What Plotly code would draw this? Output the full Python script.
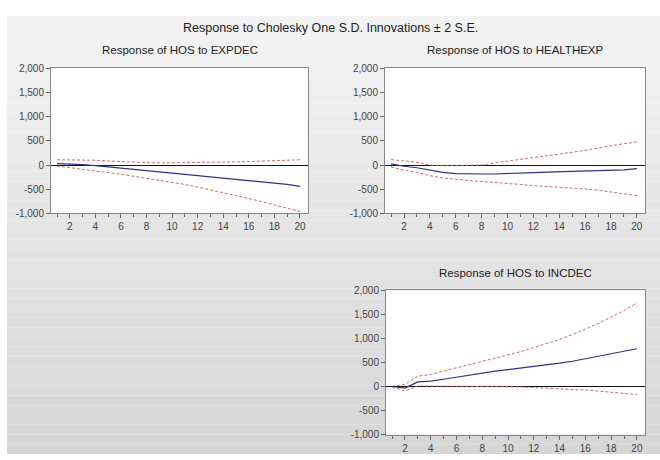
import plotly.graph_objects as go

W, H = 660, 460

periods = list(range(1, 21))

# Response of HOS to EXPDEC
exp_resp = [30, 25, 10, -10, -40, -65, -90, -115, -140, -165, -190, -210, -235, -260, -285, -310, -340, -370, -400, -440]
exp_up = [110, 110, 105, 100, 85, 70, 55, 50, 45, 45, 45, 45, 50, 60, 65, 70, 85, 95, 100, 110]
exp_lo = [-20, -50, -90, -120, -155, -190, -230, -270, -310, -355, -400, -455, -510, -565, -625, -690, -755, -825, -890, -960]

# Response of HOS to HEALTHEXP
hlt_resp = [25, -25, -55, -105, -150, -175, -185, -185, -185, -170, -165, -155, -145, -140, -130, -120, -115, -105, -100, -75]
hlt_up = [113, 80, 60, -5, -10, -10, -5, 0, 45, 80, 115, 145, 195, 225, 265, 305, 360, 400, 440, 480]
hlt_lo = [-40, -105, -150, -220, -265, -300, -320, -340, -355, -375, -400, -425, -440, -455, -475, -495, -520, -555, -585, -630]

# Response of HOS to INCDEC
inc_resp = [0, -35, 95, 110, 150, 195, 230, 285, 320, 350, 380, 420, 455, 485, 525, 575, 620, 675, 730, 785]
inc_up = [0, 45, 215, 250, 320, 385, 455, 520, 590, 655, 725, 810, 890, 980, 1080, 1195, 1310, 1445, 1580, 1738]
inc_lo = [-10, -95, 10, 10, 10, 10, 10, 5, 0, -5, -10, -20, -35, -55, -65, -75, -95, -120, -140, -167]

y_tickvals = [-1000, -500, 0, 500, 1000, 1500, 2000]
y_ticktext = ["-1,000", "-500", "0", "500", "1,000", "1,500", "2,000"]
x_tickvals = [2, 4, 6, 8, 10, 12, 14, 16, 18, 20]
x_ticktext = ["2", "4", "6", "8", "10", "12", "14", "16", "18", "20"]

main_title = "Response to Cholesky One S.D. Innovations ± 2 S.E."
panel_titles = ["Response of HOS to EXPDEC", "Response of HOS to HEALTHEXP", "Response of HOS to INCDEC"]

# pixel boxes (left, right, top, bottom)
boxes = [(51, 308, 64, 213), (385, 645, 64, 213), (386, 645, 292, 440)]
title_y = [45, 45, 274]

RESP_COL = "#30308f"
BAND_COL = "rgba(200,90,90,0.9)"
FONT = "Liberation Sans, Arial, sans-serif"

fig = go.Figure()
series = [(exp_resp, exp_up, exp_lo), (hlt_resp, hlt_up, hlt_lo), (inc_resp, inc_up, inc_lo)]

shapes = []
# gradient background bands
n = 45
top_px, bot_px = 10, 460
for i in range(n):
    y0 = top_px + (bot_px - top_px) * i / n
    y1 = top_px + (bot_px - top_px) * (i + 1) / n
    f = i / (n - 1)
    c = int(round(243 - f * (243 - 214)))
    shapes.append(dict(type="rect", xref="paper", yref="paper", layer="below",
                       x0=7 / W, x1=1, y0=1 - y1 / H, y1=1 - y0 / H,
                       line=dict(width=0), fillcolor=f"rgb({c},{c},{c})"))

layout_axes = {}
for k, ((l, r, t, b), (resp, up, lo)) in enumerate(zip(boxes, series)):
    idx = "" if k == 0 else str(k + 1)
    xa, ya = "x" + idx, "y" + idx
    for vals, col, dash, wdt in [(up, BAND_COL, "3px,2px", 1), (lo, BAND_COL, "3px,2px", 1), (resp, RESP_COL, "solid", 1.2)]:
        fig.add_trace(go.Scatter(x=periods, y=vals, mode="lines", xaxis=xa, yaxis=ya,
                                 line=dict(color=col, width=wdt, dash=dash),
                                 showlegend=False, hoverinfo="skip"))
    shapes.append(dict(type="rect", xref=xa + " domain", yref=ya + " domain", layer="below",
                       x0=0, x1=1, y0=0, y1=1, line=dict(width=0), fillcolor="white"))
    layout_axes["xaxis" + idx] = dict(
        domain=[l / W, r / W], anchor=ya, range=[0.53, 20.63],
        tickvals=x_tickvals, ticktext=x_ticktext, ticks="outside", ticklen=4, tickcolor="#666",
        minor=dict(ticks="outside", dtick=1, tick0=0, ticklen=3, tickcolor="#666"),
        showline=True, linecolor="#888", linewidth=1, mirror=True, showgrid=False, zeroline=False,
        tickfont=dict(family=FONT, size=10, color="#444"), fixedrange=True)
    layout_axes["yaxis" + idx] = dict(
        domain=[1 - b / H, 1 - t / H], anchor=xa, range=[-1000, 2000],
        tickvals=y_tickvals, ticktext=y_ticktext, ticks="outside", ticklen=4, tickcolor="#666",
        showline=True, linecolor="#888", linewidth=1, mirror=True, showgrid=False,
        zeroline=True, zerolinecolor="#111", zerolinewidth=1,
        tickfont=dict(family=FONT, size=10, color="#444"), fixedrange=True)

annotations = [dict(text=main_title, x=330 / W, y=1 - 23 / H, xref="paper", yref="paper",
                    showarrow=False, xanchor="center", yanchor="middle",
                    font=dict(family=FONT, size=12.5, color="#222"))]
for (l, r, t, b), ttl, ty in zip(boxes, panel_titles, title_y):
    annotations.append(dict(text=ttl, x=(l + r) / 2 / W, y=1 - ty / H, xref="paper", yref="paper",
                            showarrow=False, xanchor="center", yanchor="middle",
                            font=dict(family=FONT, size=11.5, color="#222")))

fig.update_layout(width=W, height=H, margin=dict(l=0, r=0, t=0, b=0),
                  paper_bgcolor="white", plot_bgcolor="white",
                  shapes=shapes, annotations=annotations, **layout_axes)

fig.write_html("out.html", config={"displayModeBar": False},
               post_script="document.body.style.margin='0';document.body.style.overflow='hidden';")
